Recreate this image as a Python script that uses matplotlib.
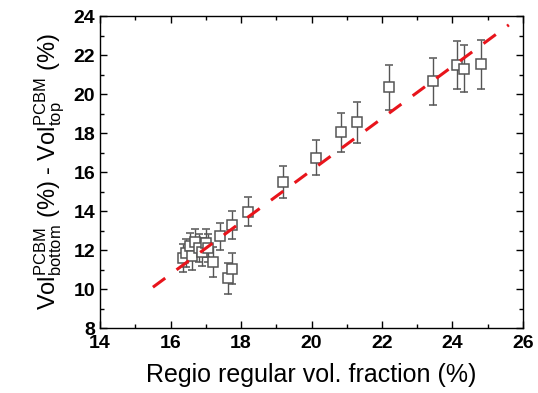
import matplotlib
matplotlib.use('Agg')
from matplotlib import pyplot as plt
from matplotlib.ticker import MultipleLocator

plt.rcParams['font.family'] = ['Liberation Sans', 'DejaVu Sans']
plt.rcParams['mathtext.default'] = 'regular'

# measured points (regio regular fraction, vol difference, error)
regio = [16.35, 16.45, 16.55, 16.6, 16.7, 16.8, 16.9, 17.0, 17.05, 17.2,
         17.4, 17.62, 17.73, 17.75, 18.19, 19.2, 20.13, 20.85, 21.3, 22.19,
         23.45, 24.12, 24.32, 24.81]
voldiff = [11.6, 11.85, 12.2, 11.7, 12.4, 12.1, 11.9, 12.35, 12.1, 11.4,
           12.7, 10.55, 11.05, 13.3, 13.98, 15.5, 16.75, 18.04, 18.55, 20.34,
           20.65, 21.47, 21.31, 21.52]
err = [0.7, 0.7, 0.7, 0.7, 0.7, 0.72, 0.72, 0.72, 0.72, 0.78,
       0.7, 0.8, 0.8, 0.72, 0.76, 0.82, 0.9, 1.0, 1.05, 1.15,
       1.2, 1.23, 1.22, 1.26]

# linear fit line endpoints
fit_x = [15.5, 25.6]
fit_y = [10.1, 23.55]

fig = plt.figure(figsize=(5.38, 3.93), dpi=100)
ax = fig.add_axes([0.186, 0.165, 0.786, 0.794])

ax.errorbar(regio, voldiff, yerr=err, fmt='s', mfc='white', mec='#555555',
            ms=6.5, mew=1.1, ecolor='#555555', elinewidth=1, capsize=3.2,
            capthick=1, zorder=2)
ax.plot(fit_x, fit_y, color='#e8141b', lw=2.2, dashes=(5, 4.6), zorder=3)

ax.set_xlim(14, 26)
ax.set_ylim(8, 24)
ax.xaxis.set_major_locator(MultipleLocator(2))
ax.xaxis.set_minor_locator(MultipleLocator(1))
ax.yaxis.set_major_locator(MultipleLocator(2))
ax.yaxis.set_minor_locator(MultipleLocator(1))
ax.tick_params(which='both', direction='in', top=True, right=True,
               labelsize=14, width=1)
ax.tick_params(which='major', length=5)
ax.tick_params(which='minor', length=3)
ax.tick_params(axis='x', pad=5)
for lab in ax.get_xticklabels() + ax.get_yticklabels():
    lab.set_fontweight('bold')
for s in ax.spines.values():
    s.set_linewidth(1)

ax.set_xlabel('Regio regular vol. fraction (%)', fontsize=18, labelpad=8)
ax.set_ylabel(r'Vol$_{bottom}^{PCBM}$ (%) - Vol$_{top}^{PCBM}$ (%)', fontsize=17,
              labelpad=5)

plt.savefig('out.png', dpi=100)
